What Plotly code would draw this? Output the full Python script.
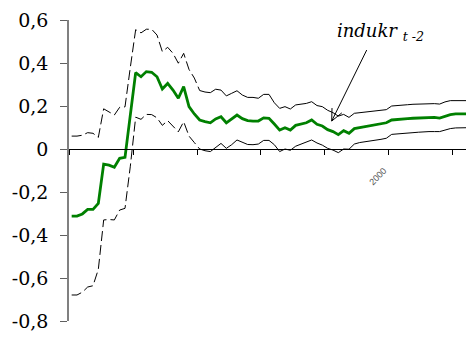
import plotly.graph_objects as go

# Point estimate and confidence band, one value per period
estimate = [
    -0.312, -0.312, -0.302, -0.281, -0.281, -0.253, -0.070, -0.075, -0.085, -0.043,
    -0.039, 0.150, 0.355, 0.336, 0.360, 0.357, 0.336, 0.279, 0.305, 0.274,
    0.236, 0.290, 0.197, 0.163, 0.135, 0.127, 0.122, 0.140, 0.150, 0.122,
    0.140, 0.158, 0.141, 0.132, 0.130, 0.130, 0.145, 0.143, 0.116, 0.088,
    0.099, 0.088, 0.110, 0.116, 0.122, 0.135, 0.115, 0.107, 0.090, 0.081,
    0.067, 0.085, 0.073, 0.095, 0.099, 0.104, 0.107, 0.112, 0.116, 0.122,
    0.135, 0.136, 0.138, 0.141, 0.143, 0.144, 0.147, 0.147, 0.147, 0.144,
    0.153, 0.160, 0.163, 0.163, 0.163,
]
upper = [
    0.060, 0.060, 0.064, 0.076, 0.073, 0.054, 0.187, 0.174, 0.158, 0.194,
    0.196, 0.380, 0.555, 0.540, 0.557, 0.557, 0.530, 0.453, 0.473, 0.445,
    0.399, 0.445, 0.370, 0.330, 0.272, 0.265, 0.262, 0.278, 0.274, 0.247,
    0.259, 0.271, 0.251, 0.240, 0.240, 0.236, 0.254, 0.254, 0.215, 0.189,
    0.197, 0.186, 0.205, 0.208, 0.212, 0.220, 0.202, 0.197, 0.180, 0.169,
    0.153, 0.161, 0.147, 0.166, 0.169, 0.172, 0.175, 0.177, 0.180, 0.183,
    0.200, 0.203, 0.205, 0.206, 0.208, 0.209, 0.212, 0.212, 0.211, 0.209,
    0.219, 0.225, 0.225, 0.225, 0.225,
]
lower = [
    -0.679, -0.679, -0.666, -0.642, -0.636, -0.560, -0.330, -0.328, -0.330, -0.284,
    -0.276, -0.080, 0.148, 0.138, 0.161, 0.160, 0.145, 0.110, 0.132, 0.107,
    0.080, 0.127, 0.060, 0.030, 0.000, -0.008, -0.012, 0.008, 0.026, 0.003,
    0.020, 0.042, 0.030, 0.021, 0.020, 0.023, 0.040, 0.040, 0.020, -0.012,
    0.000, -0.006, 0.013, 0.022, 0.030, 0.042, 0.028, 0.018, 0.003, -0.005,
    -0.017, 0.000, -0.001, 0.023, 0.030, 0.033, 0.037, 0.042, 0.045, 0.050,
    0.068, 0.070, 0.071, 0.074, 0.076, 0.078, 0.081, 0.081, 0.081, 0.081,
    0.088, 0.095, 0.098, 0.099, 0.099,
]
periods = list(range(len(estimate)))
split = 24  # band drawn dashed up to this period, solid afterwards

# Category boundaries every 12 periods; only one of them carries a label
x_boundaries = [-0.5 + 12 * k for k in range(7)]
x_label_vals = [59.5]
x_label_text = ["2000"]
y_tick_vals = [0.6, 0.4, 0.2, 0.0, -0.2, -0.4, -0.6, -0.8]
y_tick_text = ["0,6", "0,4", "0,2", "0", "-0,2", "-0,4", "-0,6", "-0,8"]

SERIF = "DejaVu Serif"

fig = go.Figure()

band_dash = dict(color="black", width=1, dash="10px,4px")
band_solid = dict(color="black", width=1)
for band in (upper, lower):
    fig.add_trace(go.Scatter(x=periods[:split + 1], y=band[:split + 1],
                             mode="lines", line=band_dash, hoverinfo="skip"))
    fig.add_trace(go.Scatter(x=periods[split:], y=band[split:],
                             mode="lines", line=band_solid, hoverinfo="skip"))

fig.add_trace(go.Scatter(x=periods, y=estimate, mode="lines",
                         line=dict(color="#008000", width=2.8)))

# Label with an open-headed pointer to the upper band
tip_x, tip_y = 48.76, 0.130
fig.add_annotation(x=58.0, y=0.545, text="<i>indukr <sub>t -2</sub></i>",
                   showarrow=False, xanchor="center", yanchor="middle",
                   font=dict(family=SERIF, size=18, color="black"))
for dx, dy in ((35, 71), (0.3, 13), (10.1, 8.2)):
    fig.add_shape(type="line", xref="x", yref="y",
                  xsizemode="pixel", ysizemode="pixel",
                  xanchor=tip_x, yanchor=tip_y,
                  x0=0, y0=0, x1=dx, y1=dy,
                  line=dict(color="black", width=1))

fig.update_layout(
    width=466, height=338,
    margin=dict(l=69, r=0, t=20, b=17),
    paper_bgcolor="white", plot_bgcolor="white",
    showlegend=False,
    xaxis=dict(
        range=[-0.5, 73.94], anchor="free", position=0.8 / 1.4,
        showline=True, linecolor="black", linewidth=1,
        showgrid=False, zeroline=False,
        tickmode="array", tickvals=x_label_vals, ticktext=x_label_text,
        ticks="outside", ticklen=5, tickcolor="black", tickwidth=1,
        minor=dict(tickmode="array", tickvals=x_boundaries, ticks="outside",
                   ticklen=5, tickcolor="black", tickwidth=1, showgrid=False),
        tickangle=-45, ticklabelstandoff=7, ticklabelshift=-5,
        tickfont=dict(family="Liberation Sans", size=9, color="#555"),
    ),
    yaxis=dict(
        range=[-0.8, 0.6], domain=[0, 1],
        showline=True, linecolor="#808080", linewidth=1.5,
        showgrid=False, zeroline=False,
        tickmode="array", tickvals=y_tick_vals, ticktext=y_tick_text,
        ticks="outside", ticklen=7, tickcolor="#606060", tickwidth=1,
        ticklabelstandoff=8,
        tickfont=dict(family=SERIF, size=19, color="black"),
    ),
)

fig.write_html("out.html")
